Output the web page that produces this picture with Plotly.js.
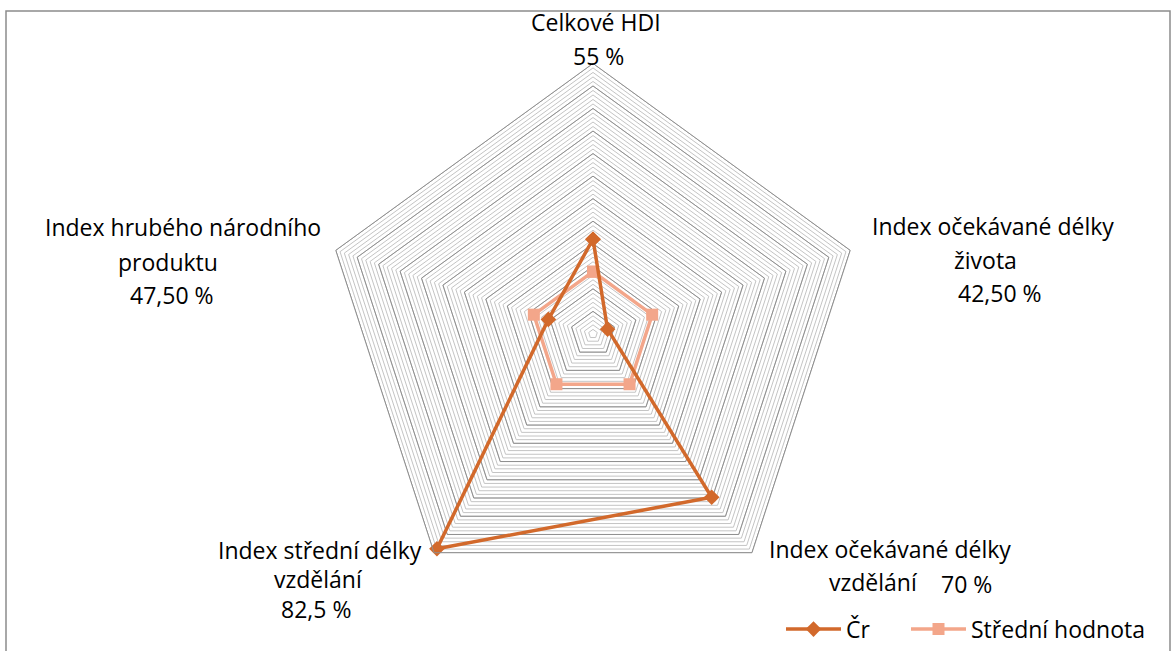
<!DOCTYPE html>
<html>
<head>
<meta charset="utf-8">
<script src="https://cdn.plot.ly/plotly-3.0.1.min.js"></script>
<style>html,body{margin:0;padding:0;background:#fff}#chart{width:1172px;height:651px}</style>
</head>
<body>
<div id="chart"></div>
<script>
// ---- data ----
var categories = ['Celkové HDI', 'Index očekávané délky života', 'Index očekávané délky vzdělání', 'Index střední délky vzdělání', 'Index hrubého národního produktu'];
var shareLabels = ['55 %', '42,50 %', '70 %', '82,5 %', '47,50 %'];
var valuesCR = [21, 3.4, 44.8, 58.9, 10.4];
var valuesMean = [13.8, 13.8, 13.8, 13.8, 13.8];
var seriesNames = ['Čr', 'Střední hodnota'];
var radialMax = 60;
var majorStep = 5;

function closed(a){ return a.concat([a[0]]); }

var W = 1172, H = 651;
var cx = 593, cy = 337, R = 273;
function px(x){ return x / W; }
function py(y){ return 1 - y / H; }

var traces = [];
// darker major rings
for (var k = majorStep; k <= radialMax; k += majorStep) {
  traces.push({
    type: 'scatterpolar', mode: 'lines',
    r: closed(categories.map(function(){ return k; })),
    theta: closed(categories),
    line: {color: '#8f8f8f', width: 1},
    hoverinfo: 'skip', showlegend: false
  });
}
traces.push({
  type: 'scatterpolar', mode: 'lines+markers', name: seriesNames[1],
  r: closed(valuesMean), theta: closed(categories),
  line: {color: '#F3A68A', width: 3.5},
  marker: {symbol: 'square', size: 12, color: '#F3A68A'},
  legend: 'legend2'
});
traces.push({
  type: 'scatterpolar', mode: 'lines+markers', name: seriesNames[0],
  r: closed(valuesCR), theta: closed(categories),
  line: {color: '#D2692B', width: 3.5},
  marker: {symbol: 'diamond', size: 12, color: '#D2692B'},
  legend: 'legend'
});

var font = 'Open Sans, Noto Sans, sans-serif';
var FS = 23;
var labels = [
  [categories[0], 596, 22],
  [shareLabels[0], 598, 57],
  ['Index očekávané délky', 993, 228],
  ['života', 985, 262],
  [shareLabels[1], 1000, 296],
  ['Index očekávané délky', 890, 554],
  ['vzdělání', 873, 587],
  [shareLabels[2], 966, 589],
  ['Index střední délky', 320, 555],
  ['vzdělání', 318, 584],
  [shareLabels[3], 316, 615],
  ['Index hrubého národního', 183, 229],
  ['produktu', 168, 264],
  [shareLabels[4], 172, 298]
];
var annotations = labels.map(function(l){
  return {
    text: l[0], xref: 'paper', yref: 'paper',
    x: px(l[1]), y: py(l[2]),
    xanchor: 'center', yanchor: 'middle', align: 'center',
    showarrow: false, font: {family: font, size: FS, color: '#000'}
  };
});

function legendAt(x){
  return {
    orientation: 'h', x: px(x), y: py(635), xanchor: 'left', yanchor: 'middle',
    font: {family: font, size: FS, color: '#000'},
    itemwidth: 55, bgcolor: 'rgba(0,0,0,0)'
  };
}

var layout = {
  width: W, height: H,
  margin: {l: 0, r: 0, t: 0, b: 0},
  paper_bgcolor: '#fff',
  showlegend: true,
  legend: legendAt(781),
  legend2: legendAt(906),
  polar: {
    domain: {x: [px(cx - R), px(cx + R)], y: [py(cy + R), py(cy - R)]},
    gridshape: 'linear',
    bgcolor: 'rgba(0,0,0,0)',
    radialaxis: {
      range: [0, radialMax], dtick: 1, showticklabels: false, ticks: '',
      showline: false, gridcolor: '#c4c4c4', gridwidth: 1
    },
    angularaxis: {
      type: 'category', categoryarray: categories,
      rotation: 90, direction: 'clockwise',
      showticklabels: false, ticks: '', showgrid: false,
      showline: true, linecolor: '#8f8f8f', linewidth: 1
    }
  },
  annotations: annotations,
  shapes: [{
    type: 'rect', xref: 'paper', yref: 'paper',
    x0: px(6), x1: px(1170), y0: py(700), y1: py(11),
    line: {color: '#8c8c8c', width: 1.5}
  }]
};

Plotly.newPlot('chart', traces, layout, {displayModeBar: false, staticPlot: true});
</script>
</body>
</html>
